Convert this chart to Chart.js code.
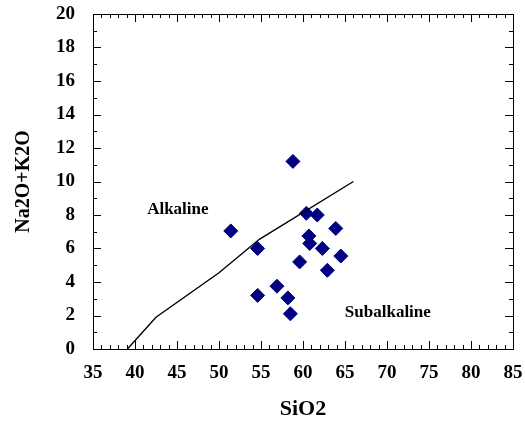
<!doctype html>
<html lang="en">
  <head>
    <meta charset="utf-8">
    <title>SiO2 vs Na2O+K2O</title>
    <style>
      * { margin: 0; padding: 0; }
      body { background: #fff; }
      .chartBox { width: 525px; height: 423px; }
    </style>
  </head>
  <body>
    <div class="chartBox">
      <canvas id="myChart"></canvas>
    </div>

    <script src="https://cdn.jsdelivr.net/npm/chart.js"></script>
    <script>
    // sample points
    const sio2   = [58.8, 51.4, 54.6, 60.4, 61.7, 63.9, 60.7, 60.8, 62.3, 64.5, 59.6, 62.9, 56.9, 54.6, 58.2, 58.5];
    const alkali = [11.2, 7.05, 6.0, 8.1, 8.0, 7.2, 6.75, 6.3, 6.0, 5.55, 5.2, 4.7, 3.75, 3.2, 3.05, 2.1];

    // alkaline / subalkaline divide
    const lineX = [39.1, 42.5, 50.0, 54.8, 66.0];
    const lineY = [0, 1.9, 4.55, 6.55, 10.0];

    // axes
    const xMin = 35, xMax = 85, xStep = 5;
    const yMin = 0, yMax = 20, yStep = 2;

    const serif = "'Liberation Serif', 'DejaVu Serif', serif";

    // frame + inward ticks on all four sides (minor every 1 unit)
    const frameTicks = {
      id: 'frameTicks',
      afterDraw(chart) {
        const { ctx, chartArea: { left, right, top, bottom }, scales: { x, y } } = chart;
        ctx.save();
        ctx.strokeStyle = '#000';
        ctx.lineWidth = 1;
        ctx.strokeRect(Math.round(left) + 0.5, Math.round(top) + 0.5, Math.round(right - left), Math.round(bottom - top));
        ctx.beginPath();
        for (let v = xMin; v <= xMax; v++) {
          const px = Math.round(x.getPixelForValue(v)) + 0.5;
          const len = v % xStep === 0 ? 8 : 4;
          ctx.moveTo(px, bottom); ctx.lineTo(px, bottom - len);
          ctx.moveTo(px, top); ctx.lineTo(px, top + len);
        }
        for (let v = yMin; v <= yMax; v++) {
          const py = Math.round(y.getPixelForValue(v)) + 0.5;
          const len = v % yStep === 0 ? 8 : 4;
          ctx.moveTo(left, py); ctx.lineTo(left + len, py);
          ctx.moveTo(right, py); ctx.lineTo(right - len, py);
        }
        ctx.stroke();

        // field labels
        ctx.fillStyle = '#000';
        ctx.font = 'bold 17px ' + serif;
        ctx.textAlign = 'center';
        ctx.textBaseline = 'middle';
        ctx.fillText('Alkaline', x.getPixelForValue(45.1), y.getPixelForValue(8.3));
        ctx.fillText('Subalkaline', x.getPixelForValue(70.1), y.getPixelForValue(2.2));
        ctx.restore();
      }
    };

    const points = sio2.map((v, i) => ({ x: v, y: alkali[i] }));
    const divide = lineX.map((v, i) => ({ x: v, y: lineY[i] }));

    const config = {
      type: 'scatter',
      data: {
        datasets: [
          {
            data: divide,
            showLine: true,
            borderColor: '#000',
            borderWidth: 1.4,
            pointRadius: 0,
            pointHoverRadius: 0
          },
          {
            data: points,
            pointStyle: 'rectRot',
            pointRadius: 7,
            pointHoverRadius: 7,
            backgroundColor: '#000080',
            borderColor: '#000080',
            borderWidth: 1
          }
        ]
      },
      options: {
        responsive: true,
        maintainAspectRatio: false,
        animation: false,
        layout: { padding: { top: 14, right: 12, left: 0, bottom: 0 } },
        plugins: {
          legend: { display: false },
          tooltip: { enabled: false }
        },
        scales: {
          x: {
            type: 'linear',
            min: xMin,
            max: xMax,
            grid: { display: false },
            border: { display: false },
            ticks: {
              stepSize: xStep,
              color: '#000',
              padding: 5,
              maxRotation: 0,
              font: { family: serif, size: 19, weight: 'bold' }
            },
            title: {
              display: true,
              text: 'SiO2',
              color: '#000',
              padding: { top: 0, bottom: 0 },
              font: { family: serif, size: 22, weight: 'bold' }
            },
            afterFit(scale) {
              scale.height = 74;
              scale.paddingLeft = 0;
              scale.paddingRight = 0;
            }
          },
          y: {
            type: 'linear',
            min: yMin,
            max: yMax,
            grid: { display: false },
            border: { display: false },
            ticks: {
              stepSize: yStep,
              color: '#000',
              padding: 10,
              font: { family: serif, size: 19, weight: 'bold' }
            },
            title: {
              display: true,
              text: 'Na2O+K2O',
              color: '#000',
              padding: { top: 12, bottom: 12 },
              font: { family: serif, size: 20, weight: 'bold' }
            },
            afterFit(scale) {
              scale.width = 93;
              scale.paddingTop = 0;
              scale.paddingBottom = 0;
            }
          }
        }
      },
      plugins: [frameTicks]
    };

    const myChart = new Chart(document.getElementById('myChart'), config);
    </script>
  </body>
</html>
